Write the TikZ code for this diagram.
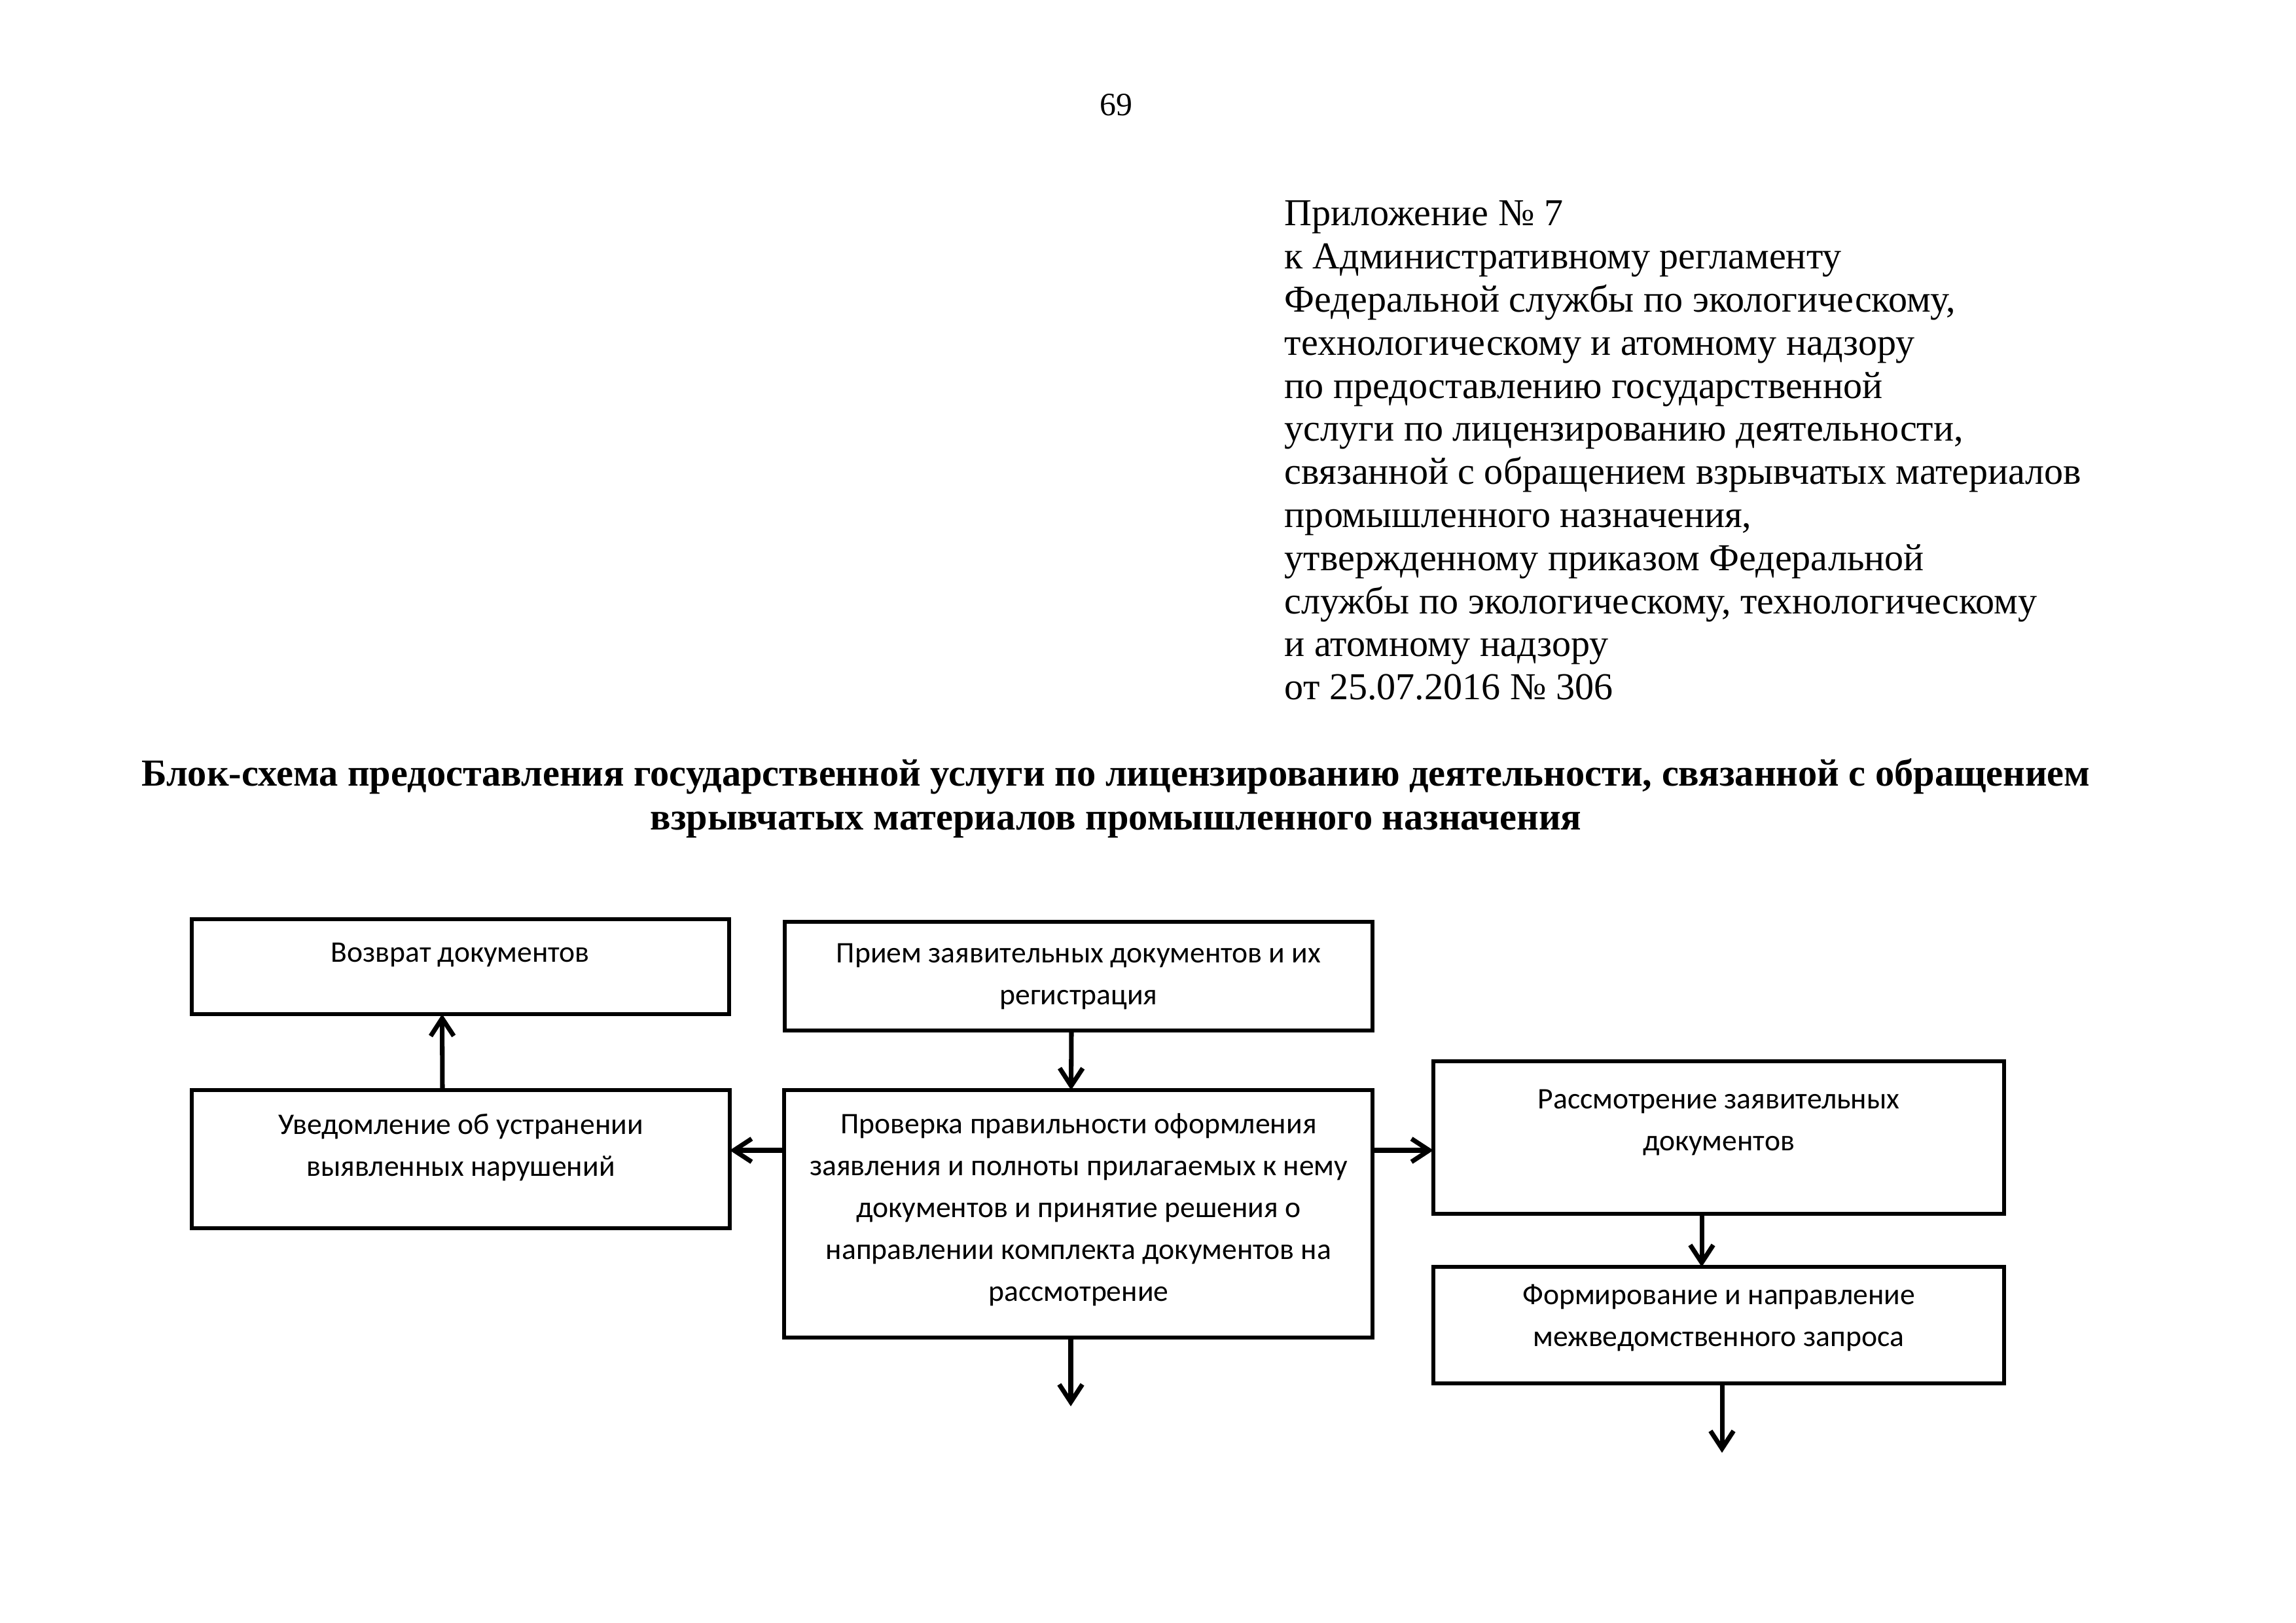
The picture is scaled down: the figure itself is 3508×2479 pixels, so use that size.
\documentclass[tikz,border=0pt]{standalone}
\usepackage{fontspec}
\setmainfont{Liberation Serif}
\newfontfamily\boxfont{Carlito}
\usetikzlibrary{arrows.meta,calc}
\def\pxu{0.084664mm}
\begin{document}
\begin{tikzpicture}[x=0.084664mm,y=-0.084664mm,
  box/.style={draw=black,line width=1.45pt,rectangle,inner sep=0pt,outer sep=0pt,anchor=north west},
  boxtext/.style={font=\boxfont\fontsize{11}{15.4}\selectfont,align=center,anchor=north,inner sep=0pt},
  arr/.style={line width=1.7pt,-{Straight Barb[length=6.5pt,width=8.5pt]}},
  hdr/.style={font=\fontsize{14}{15.85}\selectfont,align=left,anchor=north west,inner sep=0pt},
  ttl/.style={font=\bfseries\fontsize{14.07}{16.1}\selectfont,align=center,anchor=north,inner sep=0pt}]
\useasboundingbox (0,0) rectangle (3508,2479);
% page number
\node[font=\fontsize{12}{14}\selectfont,anchor=base,inner sep=0pt] (pnum) at (1705,177) {69};
% header
\node[hdr] (head) at (1962,298) {\strut Приложение № 7\\
к Административному регламенту\\
Федеральной службы по экологическому,\\
технологическому и атомному надзору\\
по предоставлению государственной\\
услуги по лицензированию деятельности,\\
связанной с обращением взрывчатых материалов\\
промышленного назначения,\\
утвержденному приказом Федеральной\\
службы по экологическому, технологическому\\
и атомному надзору\\
от 25.07.2016 № 306};
% title
\node[ttl] (title) at (1705,1153) {\strut Блок-схема предоставления государственной услуги по лицензированию деятельности, связанной с обращением\\
взрывчатых материалов промышленного назначения};
% boxes
\node[box,minimum width=821*\pxu,minimum height=145*\pxu] (vozvrat) at (293,1404) {};
\node[box,minimum width=898*\pxu,minimum height=166*\pxu] (prijem) at (1199,1408) {};
\node[box,minimum width=822*\pxu,minimum height=211*\pxu] (uved) at (293,1665) {};
\node[box,minimum width=899*\pxu,minimum height=378*\pxu] (prov) at (1198,1665) {};
\node[box,minimum width=872*\pxu,minimum height=233*\pxu] (rass) at (2190,1621) {};
\node[box,minimum width=872*\pxu,minimum height=178*\pxu] (form) at (2190,1935) {};
% box texts
\node[boxtext] (tvozvrat) at (703,1424) {\strut Возврат документов};
\node[boxtext] (tprijem) at (1648,1425) {\strut Прием заявительных документов и их\\регистрация};
\node[boxtext] (tuved) at (704,1687) {\strut Уведомление об устранении\\выявленных нарушений};
\node[boxtext] (tprov) at (1648,1686) {\strut Проверка правильности оформления\\заявления и полноты прилагаемых к нему\\документов и принятие решения о\\направлении комплекта документов на\\рассмотрение};
\node[boxtext] (trass) at (2626,1648) {\strut Рассмотрение заявительных\\документов};
\node[boxtext] (tform) at (2626,1947) {\strut Формирование и направление\\межведомственного запроса};
% connectors
\coordinate (hy) at ($(prov.north)+(0,92)$);
\coordinate (end1) at (1636,2148);
\coordinate (end2) at (2631,2219);
\draw[arr] ($(uved.north)+(-28,0)$) -- ($(vozvrat.south)+(-28,0)$);
\draw[arr] ($(prijem.south)+(-11,0)$) -- ($(prov.north)+(-11,0)$);
\draw[arr] (prov.west |- hy) -- (uved.east |- hy);
\draw[arr] (prov.east |- hy) -- (rass.west |- hy);
\draw[arr] ($(rass.south)+(-26,0)$) -- ($(form.north)+(-26,0)$);
\draw[arr] (prov.south -| end1) -- (end1);
\draw[arr] (form.south -| end2) -- (end2);
\end{tikzpicture}
\end{document}
